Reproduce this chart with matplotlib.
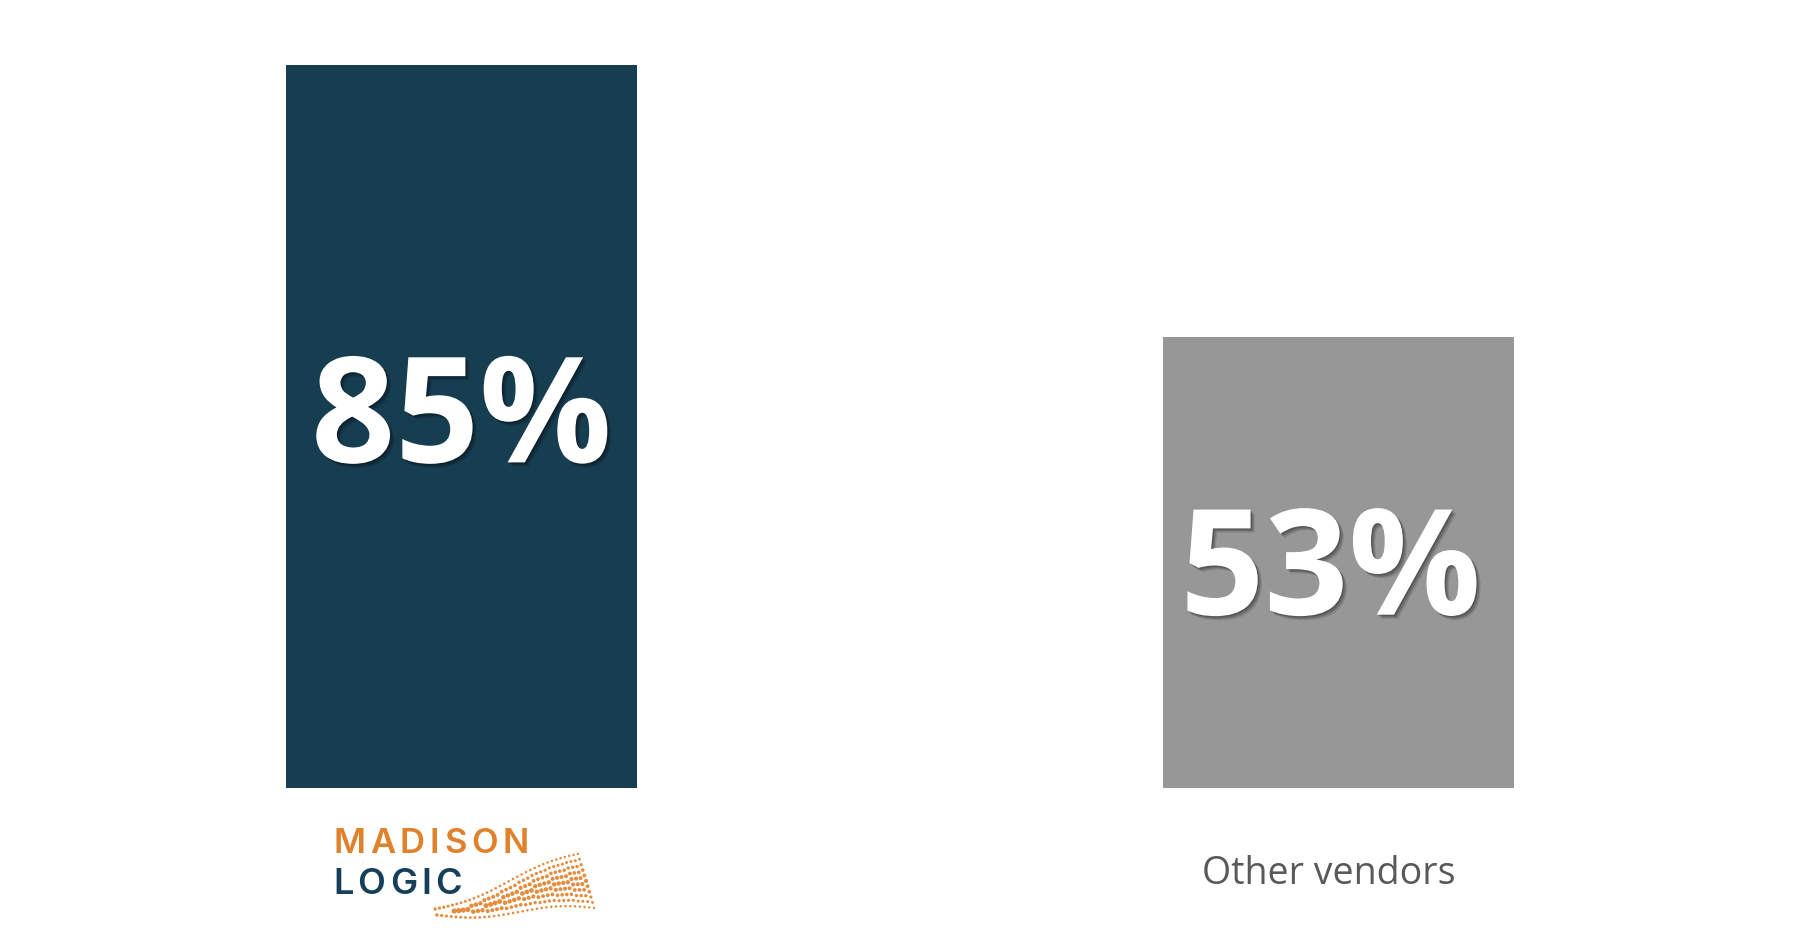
import matplotlib
matplotlib.use("Agg")
import matplotlib.pyplot as plt
import matplotlib.patheffects as pe
from matplotlib.transforms import ScaledTranslation
import numpy as np

categories = ["Madison Logic", "Other vendors"]
values = [85, 53]
labels = ["85%", "53%"]
bar_colors = ["#173d51", "#979797"]

W, H, DPI = 1800, 933, 100
fig = plt.figure(figsize=(W / DPI, H / DPI), dpi=DPI)
fig.patch.set_facecolor("white")

# main bar axes: baseline at 788px from top, 8.507 px per percent
base_px, top_px = 788, 10
px_per_unit = 8.507
ax = fig.add_axes([0, 1 - base_px / H, 1, (base_px - top_px) / H])
x = np.arange(len(categories))
ax.bar(x, values, width=0.4, color=bar_colors, zorder=2)
ax.set_ylim(0, (base_px - top_px) / px_per_unit)
ax.set_xlim(-461.5 / 877, (W - 461.5) / 877)
for s in ax.spines.values():
    s.set_visible(False)
ax.set_yticks([])
ax.set_xticks(x)
ax.set_xticklabels(["", categories[1]], fontsize=27, color="#595959", family="Open Sans")
ax.tick_params(axis="x", length=0, pad=48)
for lab in ax.get_xticklabels():
    lab.set_transform(lab.get_transform() + ScaledTranslation(-0.1, 0, fig.dpi_scale_trans))

# soft drop shadow under the value labels
shadow = [pe.SimplePatchShadow(offset=(3, -3), shadow_rgbFace="black", alpha=0.12),
          pe.SimplePatchShadow(offset=(2, -2), shadow_rgbFace="black", alpha=0.18),
          pe.SimplePatchShadow(offset=(1, -1), shadow_rgbFace="black", alpha=0.2),
          pe.Normal()]
y_off = [0.3, -1.6]
x_off = [0, -0.009]
for xi, v, lab, yo, xo in zip(x, values, labels, y_off, x_off):
    ax.text(xi + xo, v / 2 + yo, lab, ha="center", va="center", color="white",
            fontsize=106, fontweight="bold", family="Open Sans", path_effects=shadow, zorder=3)

# logo overlay in pixel coordinates
lax = fig.add_axes([0, 0, 1, 1])
lax.set_xlim(0, W)
lax.set_ylim(H, 0)
lax.axis("off")
lax.patch.set_alpha(0)
renderer = fig.canvas.get_renderer()


def spaced_text(x0, y0, s, gap, **kw):
    # draw letters one at a time so the logo gets its wide tracking
    for ch in s:
        t = lax.text(x0, y0, ch, ha="left", va="baseline", **kw)
        x0 = t.get_window_extent(renderer).x1 + gap


spaced_text(333, 853, "MADISON", 4.8, color="#e0812b", fontsize=25,
            fontweight="semibold", family="Inter")
spaced_text(333, 894, "LOGIC", 4.2, color="#16405a", fontsize=26,
            fontweight="semibold", family="Inter")

# dotted wave decoration
cols = np.linspace(0, 1, 34)
dx, dy, ds = [], [], []
for u in cols:
    cx = 436 + 150 * u
    cy = 912 - 30 * u + 4 * np.sin(u * 6)
    half = 3 + 24 * u
    n = int(2 + 9 * u)
    for r in np.linspace(-half, half, n):
        dx.append(cx + 0.3 * r)
        dy.append(cy + r)
        edge = 1 - abs(r) / (half + 1)
        ds.append(3 + 12 * edge * (1 - 0.5 * u))
lax.scatter(dx, dy, s=ds, color="#e0812b", linewidths=0, alpha=0.9)

fig.savefig("out.png", dpi=DPI, facecolor="white")
